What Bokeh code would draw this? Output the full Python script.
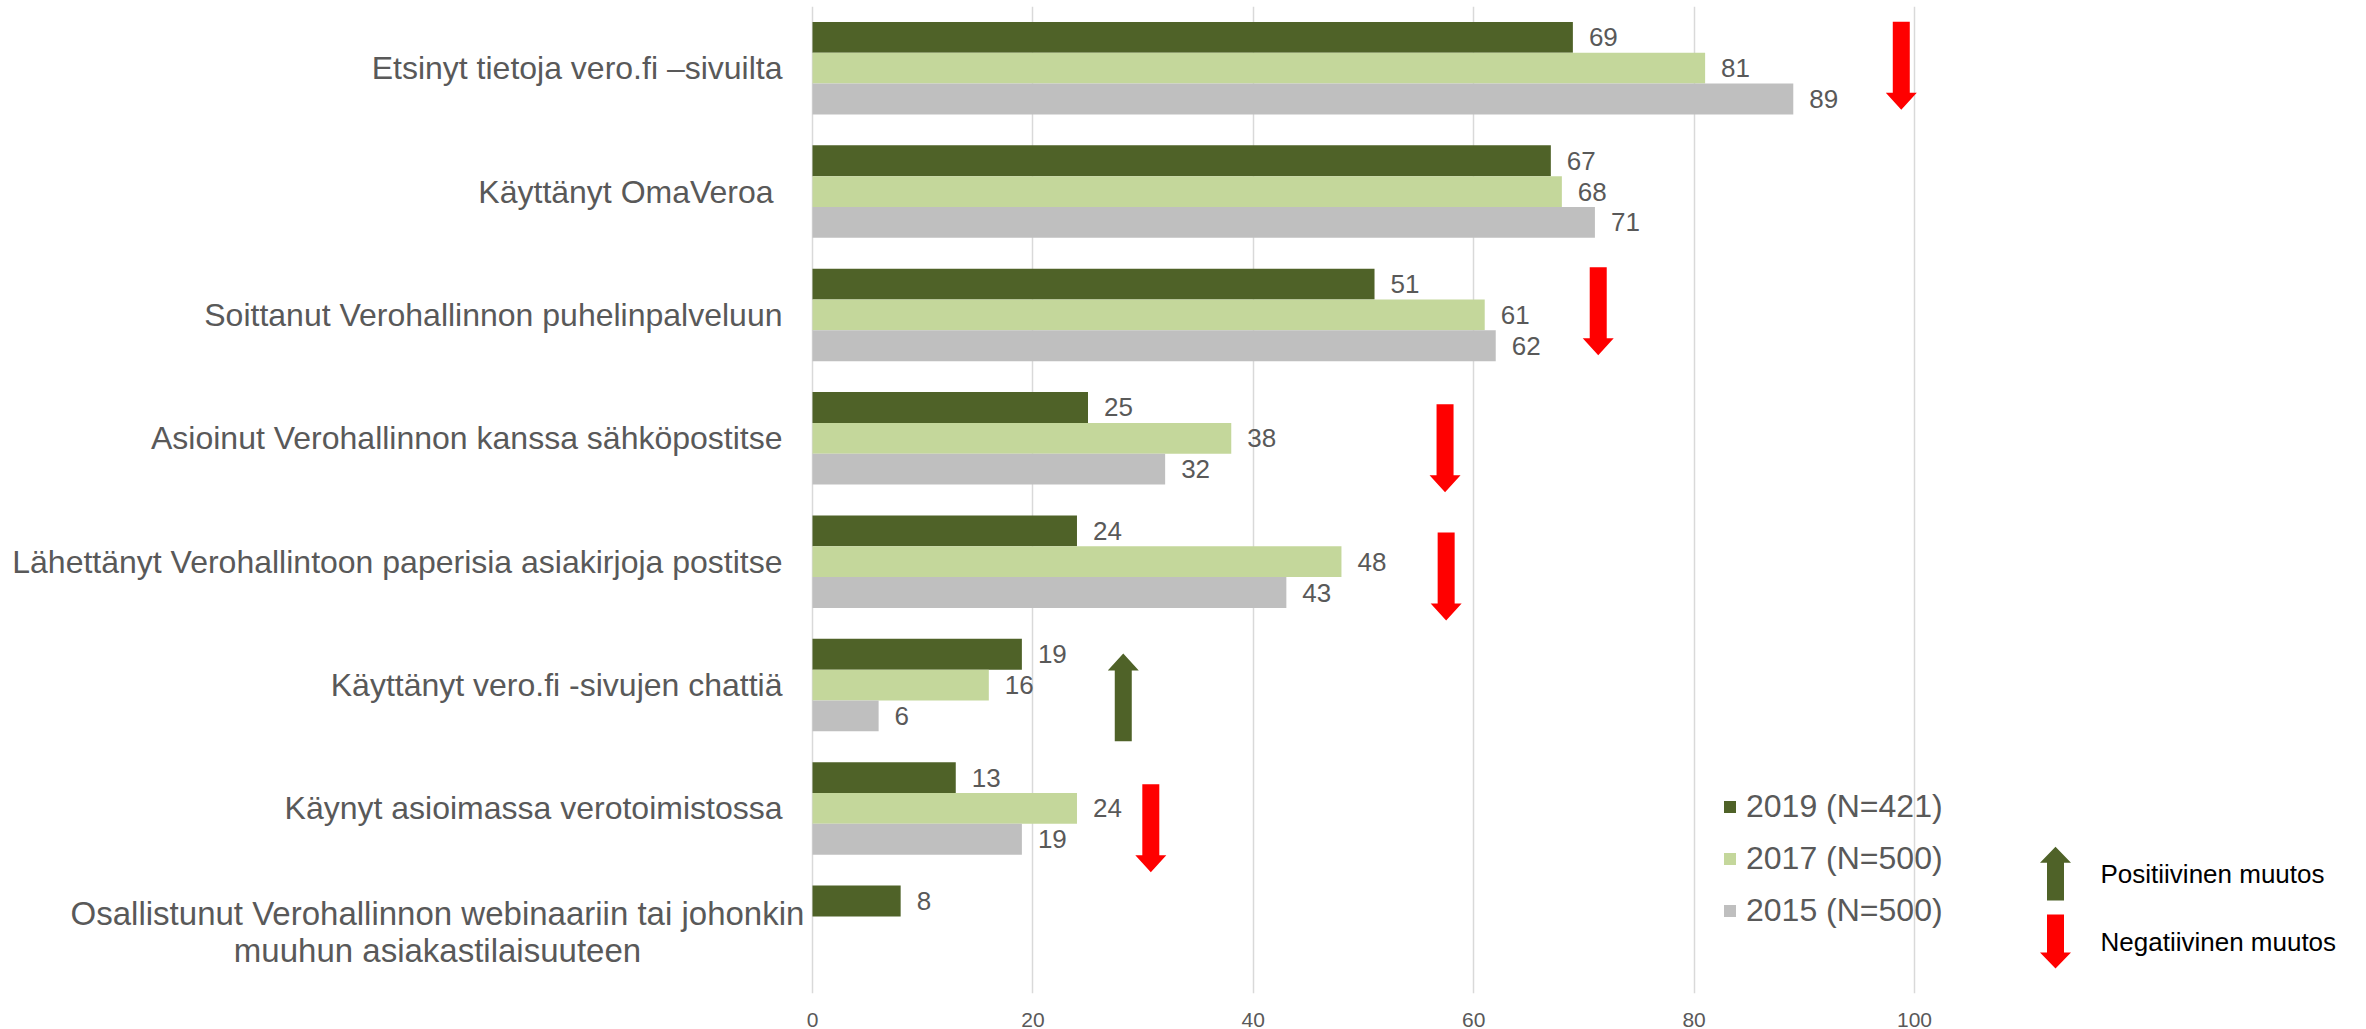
from bokeh.plotting import figure
from bokeh.models import Range1d, FixedTicker, LinearAxis, Legend, LegendItem, ColumnDataSource
from bokeh.core.properties import value
from bokeh.embed import file_html
from bokeh.resources import INLINE

# ---------------- data ----------------
categories = [
    "Etsinyt tietoja vero.fi \u2013sivuilta",
    "K\u00e4ytt\u00e4nyt OmaVeroa ",
    "Soittanut Verohallinnon puhelinpalveluun",
    "Asioinut Verohallinnon kanssa s\u00e4hk\u00f6postitse",
    "L\u00e4hett\u00e4nyt Verohallintoon paperisia asiakirjoja postitse",
    "K\u00e4ytt\u00e4nyt vero.fi -sivujen chatti\u00e4",
    "K\u00e4ynyt asioimassa verotoimistossa",
    "Osallistunut Verohallinnon webinaariin tai johonkin\nmuuhun asiakastilaisuuteen",
]
series_names = ["2019 (N=421)", "2017 (N=500)", "2015 (N=500)"]
values_2019 = [69, 67, 51, 25, 24, 19, 13, 8]
values_2017 = [81, 68, 61, 38, 48, 16, 24]
values_2015 = [89, 71, 62, 32, 43, 6, 19]
x_ticks = [0, 20, 40, 60, 80, 100]

# change arrows: category index, x position (data), direction (+1 up = positive, -1 down = negative)
arrow_rows = [0, 2, 3, 4, 5, 6]
arrow_x = [98.8, 71.3, 57.4, 57.5, 28.2, 30.7]
arrow_dir = [-1, -1, -1, -1, 1, -1]
arrow_dy = [-0.02, -0.03, 0.08, 0.12, 0.10, 0.16]

change_labels = ["Positiivinen muutos", "Negatiivinen muutos"]

# ---------------- styling ----------------
C2019 = "#4F6228"
C2017 = "#C4D79B"
C2015 = "#BFBFBF"
TXT = "#595959"
RED = "#FF0000"
FONT = "Liberation Sans"

W, H = 2366, 1029
TOP = 6
PX_PER_UNIT = 11.02
ZERO_PX = 812.0
x_start = -ZERO_PX / PX_PER_UNIT
x_end = x_start + W / PX_PER_UNIT
FRAME_H = 988.0
n = len(categories)
px_x = 1.0 / PX_PER_UNIT
px_y = n / FRAME_H

p = figure(width=W, height=H, output_backend="svg", toolbar_location=None,
           x_range=Range1d(x_start, x_end), y_range=Range1d(n, 0),
           x_axis_location=None, y_axis_location=None,
           min_border_left=0, min_border_right=0, min_border_top=TOP, min_border_bottom=0)
p.outline_line_color = None
p.background_fill_color = "white"
p.border_fill_color = "white"

xaxis = LinearAxis(ticker=FixedTicker(ticks=x_ticks))
xaxis.axis_line_color = None
xaxis.major_tick_line_color = None
xaxis.minor_tick_line_color = None
xaxis.major_label_text_font = FONT
xaxis.major_label_text_font_size = "21px"
xaxis.major_label_text_color = TXT
xaxis.major_label_standoff = 13
p.add_layout(xaxis, "below")

p.xgrid.ticker = FixedTicker(ticks=x_ticks)
p.xgrid.grid_line_color = "#D9D9D9"
p.xgrid.grid_line_width = 1.5
p.ygrid.grid_line_color = None

centers = [i + 0.5 for i in range(n)]
bw = 0.25
series = [(values_2019, C2019, -bw), (values_2017, C2017, 0.0), (values_2015, C2015, bw)]
renderers = []
for vals, col, off in series:
    ys = [centers[i] + off for i in range(len(vals))]
    src = ColumnDataSource(dict(y=ys, right=vals, lab=[str(v) for v in vals]))
    r = p.hbar(y="y", left=0, right="right", height=bw, source=src,
               fill_color=col, line_color=None)
    renderers.append(r)
    p.text(x="right", y="y", text="lab", source=src, x_offset=16,
           text_align="left", text_baseline="middle",
           text_font=value(FONT), text_font_size="26px", text_color=TXT)

# category labels
p.text(x=[0] * (n - 1), y=centers[:n - 1], text=categories[:n - 1], x_offset=-30,
       text_align="right", text_baseline="middle",
       text_font=value(FONT), text_font_size="32px", text_color=TXT)
p.text(x=[0], y=[centers[n - 1]], text=[categories[n - 1]], x_offset=-375,
       text_align="center", text_baseline="middle", text_line_height=1.0,
       text_font=value(FONT), text_font_size="33px", text_color=TXT)


def arrow_poly(cx, cy, d, L, HL, sw=8.5, hw=15.5):
    # offsets in screen px, dy positive = downwards (tip downward for d=-1)
    pts = [(-sw, -L / 2), (sw, -L / 2), (sw, L / 2 - HL), (hw, L / 2 - HL),
           (0, L / 2), (-hw, L / 2 - HL), (-sw, L / 2 - HL)]
    s = 1 if d < 0 else -1
    xs = [cx + dx * px_x for dx, dy in pts]
    ys = [cy + s * dy * px_y for dx, dy in pts]
    return xs, ys


axs, ays, acols = [], [], []
for r_i, ax, d, dy in zip(arrow_rows, arrow_x, arrow_dir, arrow_dy):
    xs, ys = arrow_poly(ax, centers[r_i] + dy, d, 88, 17)
    axs.append(xs)
    ays.append(ys)
    acols.append(C2019 if d > 0 else RED)
p.patches(xs=axs, ys=ays, fill_color=acols, line_color=None)

# change legend (arrows + texts)
lx = (2055 - ZERO_PX) * px_x
ly_up = (874 - TOP) * px_y
ly_dn = (942 - TOP) * px_y
ux, uy = arrow_poly(lx, ly_up, 1, 54, 16)
dx_, dy_ = arrow_poly(lx, ly_dn, -1, 54, 16)
p.patches(xs=[ux, dx_], ys=[uy, dy_], fill_color=[C2019, RED], line_color=None)
p.text(x=[lx, lx], y=[ly_up, ly_dn], text=change_labels, x_offset=45,
       text_align="left", text_baseline="middle",
       text_font=value(FONT), text_font_size="26px", text_color="#000000")

legend = Legend(items=[LegendItem(label=series_names[i], renderers=[renderers[i]]) for i in range(3)],
                location=(1722, 63))
legend.padding = 0
legend.margin = 0
legend.border_line_alpha = 0
legend.background_fill_alpha = 0
legend.label_text_font = FONT
legend.label_text_font_size = "32px"
legend.label_text_color = TXT
legend.glyph_width = 15
legend.glyph_height = 15
legend.label_standoff = 9
legend.label_height = 40
legend.spacing = 12
p.add_layout(legend, "center")

open("out.html", "w").write(file_html(p, INLINE))
